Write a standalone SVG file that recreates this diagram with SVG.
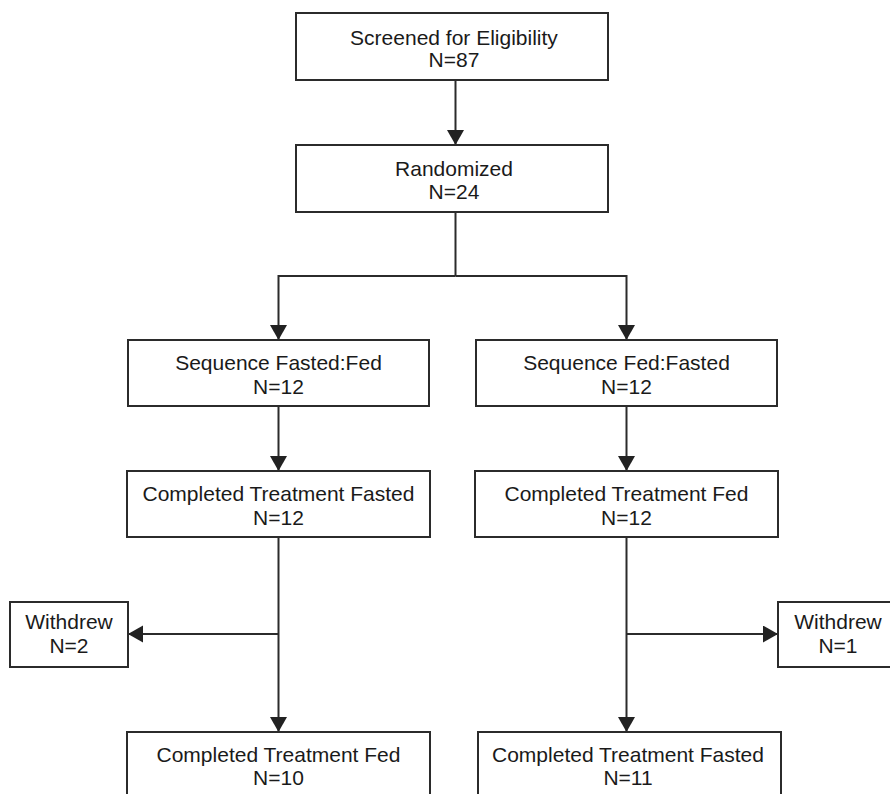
<svg xmlns="http://www.w3.org/2000/svg" width="890" height="794" viewBox="0 0 890 794">
<style>
.box{fill:#fff;stroke:#2b2b2b;stroke-width:2}
.t{font-family:"Liberation Sans",Arial,sans-serif;font-size:21px;fill:#1a1a1a;text-anchor:middle}
.c{fill:none;stroke:#2b2b2b;stroke-width:2}
</style>
<defs>
<marker id="ah" markerUnits="userSpaceOnUse" markerWidth="16" markerHeight="18" refX="15" refY="8.5" orient="auto">
<path d="M0,0 L15,8.5 L0,17 z" fill="#222"/>
</marker>
</defs>
<rect width="890" height="794" fill="#fff"/>
<g id="connectors">
<path class="c" d="M455.5,80 V145" marker-end="url(#ah)"/>
<path class="c" d="M455.5,212 V276"/>
<path class="c" d="M455.5,276 H278.5 V340" marker-end="url(#ah)"/>
<path class="c" d="M455.5,276 H626.5 V340" marker-end="url(#ah)"/>
<path class="c" d="M278.5,406 V471" marker-end="url(#ah)"/>
<path class="c" d="M626.5,406 V471" marker-end="url(#ah)"/>
<path class="c" d="M278.5,537 V732" marker-end="url(#ah)"/>
<path class="c" d="M626.5,537 V732" marker-end="url(#ah)"/>
<path class="c" d="M278.5,634 H128" marker-end="url(#ah)"/>
<path class="c" d="M626.5,634 H778" marker-end="url(#ah)"/>
</g>
<g id="screened">
<rect class="box" x="296" y="13" width="312" height="67"/>
<text class="t" x="454" y="45">Screened for Eligibility</text>
<text class="t" x="454" y="67">N=87</text>
</g>
<g id="randomized">
<rect class="box" x="296" y="145" width="312" height="67"/>
<text class="t" x="454" y="176">Randomized</text>
<text class="t" x="454" y="199">N=24</text>
</g>
<g id="seq-fasted-fed">
<rect class="box" x="128" y="340" width="301" height="66"/>
<text class="t" x="278.5" y="370">Sequence Fasted:Fed</text>
<text class="t" x="278.5" y="394">N=12</text>
</g>
<g id="seq-fed-fasted">
<rect class="box" x="476" y="340" width="301" height="66"/>
<text class="t" x="626.5" y="370">Sequence Fed:Fasted</text>
<text class="t" x="626.5" y="394">N=12</text>
</g>
<g id="completed-fasted-1">
<rect class="box" x="127" y="471" width="303" height="66"/>
<text class="t" x="278.5" y="501">Completed Treatment Fasted</text>
<text class="t" x="278.5" y="525">N=12</text>
</g>
<g id="completed-fed-1">
<rect class="box" x="475" y="471" width="303" height="66"/>
<text class="t" x="626.5" y="501">Completed Treatment Fed</text>
<text class="t" x="626.5" y="525">N=12</text>
</g>
<g id="withdrew-left">
<rect class="box" x="10" y="602" width="118" height="65"/>
<text class="t" x="69" y="629">Withdrew</text>
<text class="t" x="69" y="653">N=2</text>
</g>
<g id="withdrew-right">
<rect class="box" x="778" y="602" width="120" height="65"/>
<text class="t" x="838" y="629">Withdrew</text>
<text class="t" x="838" y="653">N=1</text>
</g>
<g id="completed-fed-2">
<rect class="box" x="127" y="732" width="303" height="80"/>
<text class="t" x="278.5" y="762">Completed Treatment Fed</text>
<text class="t" x="278.5" y="785">N=10</text>
</g>
<g id="completed-fasted-2">
<rect class="box" x="478" y="732" width="303" height="80"/>
<text class="t" x="628" y="762">Completed Treatment Fasted</text>
<text class="t" x="628" y="785">N=11</text>
</g>
</svg>
